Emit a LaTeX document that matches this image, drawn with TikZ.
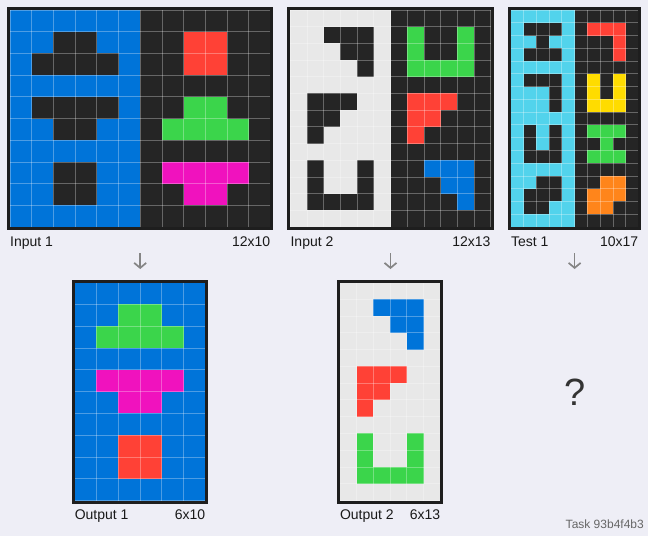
\documentclass[tikz,border=0pt]{standalone}
\usepackage{fontspec}
\setmainfont{Liberation Sans}
\usetikzlibrary{arrows.meta}

\definecolor{bgpage}{RGB}{238,238,246}
\definecolor{arcK}{RGB}{37,37,37}
\definecolor{arcB}{RGB}{0,116,217}
\definecolor{arcR}{RGB}{255,65,54}
\definecolor{arcG}{RGB}{59,213,75}
\definecolor{arcM}{RGB}{240,18,190}
\definecolor{arcY}{RGB}{255,220,0}
\definecolor{arcO}{RGB}{255,133,27}
\definecolor{arcC}{RGB}{82,211,236}
\definecolor{arcW}{RGB}{232,232,232}
\definecolor{framecol}{RGB}{30,30,30}

\tikzset{
	gridline/.style={white, opacity=0.3, line width=0.8pt},
	frame/.style={draw=framecol, line width=3pt},
	lbl/.style={font=\fontsize{14}{16}\selectfont, text=black!90, inner sep=0pt},
	downarr/.style={draw=black!48, line width=1.7pt, -{Straight Barb[length=5pt,width=12pt]}},
}

% x0, y0, cell, columns, rows, colour letters row by row
\newcommand{\arcgrid}[6]{
	\foreach \row [count=\j from 0] in {#6} {
		\foreach \cc [count=\i from 0] in \row {
			\fill[arc\cc] (#1+\i*#3, #2+\j*#3) rectangle ++(#3,#3);
		}
	}
	\foreach \i in {0,...,#4}
		\draw[gridline] (#1+\i*#3, #2) -- ++(0, #5*#3);
	\foreach \j in {0,...,#5}
		\draw[gridline] (#1, #2+\j*#3) -- ++(#4*#3, 0);
	\draw[frame] (#1-1.5, #2-1.5) rectangle (#1+#4*#3+1.5, #2+#5*#3+1.5);
}

\begin{document}
\begin{tikzpicture}[x=1pt, y=-1pt]
				\useasboundingbox (0,0) rectangle (648,536);
				\fill[bgpage] (0,0) rectangle (648,536);

				% input 1
				\arcgrid{10}{10}{21.7}{12}{10}{
					{B,B,B,B,B,B,K,K,K,K,K,K},
					{B,B,K,K,B,B,K,K,R,R,K,K},
					{B,K,K,K,K,B,K,K,R,R,K,K},
					{B,B,B,B,B,B,K,K,K,K,K,K},
					{B,K,K,K,K,B,K,K,G,G,K,K},
					{B,B,K,K,B,B,K,G,G,G,G,K},
					{B,B,B,B,B,B,K,K,K,K,K,K},
					{B,B,K,K,B,B,K,M,M,M,M,K},
					{B,B,K,K,B,B,K,K,M,M,K,K},
					{B,B,B,B,B,B,K,K,K,K,K,K}}
				\node[lbl, anchor=base west] (in1name) at (10,246) {Input 1};
				\node[lbl, anchor=base east] (in1size) at (270.4,246) {12x10};

				% input 2
				\arcgrid{290.4}{10}{16.692}{12}{13}{
					{W,W,W,W,W,W,K,K,K,K,K,K},
					{W,W,K,K,K,W,K,G,K,K,G,K},
					{W,W,W,K,K,W,K,G,K,K,G,K},
					{W,W,W,W,K,W,K,G,G,G,G,K},
					{W,W,W,W,W,W,K,K,K,K,K,K},
					{W,K,K,K,W,W,K,R,R,R,K,K},
					{W,K,K,W,W,W,K,R,R,K,K,K},
					{W,K,W,W,W,W,K,R,K,K,K,K},
					{W,W,W,W,W,W,K,K,K,K,K,K},
					{W,K,W,W,K,W,K,K,B,B,B,K},
					{W,K,W,W,K,W,K,K,K,B,B,K},
					{W,K,K,K,K,W,K,K,K,K,B,K},
					{W,W,W,W,W,W,K,K,K,K,K,K}}
				\node[lbl, anchor=base west] (in2name) at (290.4,246) {Input 2};
				\node[lbl, anchor=base east] (in2size) at (490.7,246) {12x13};

				% test 1
				\arcgrid{510.8}{10}{12.765}{10}{17}{
					{C,C,C,C,C,K,K,K,K,K},
					{C,K,K,K,C,K,R,R,R,K},
					{C,C,K,C,C,K,K,K,R,K},
					{C,K,K,K,C,K,K,K,R,K},
					{C,C,C,C,C,K,K,K,K,K},
					{C,K,K,K,C,K,Y,K,Y,K},
					{C,C,C,K,C,K,Y,K,Y,K},
					{C,C,C,K,C,K,Y,Y,Y,K},
					{C,C,C,C,C,K,K,K,K,K},
					{C,K,C,K,C,K,G,G,G,K},
					{C,K,C,K,C,K,K,G,K,K},
					{C,K,K,K,C,K,G,G,G,K},
					{C,C,C,C,C,K,K,K,K,K},
					{C,C,K,K,C,K,K,O,O,K},
					{C,K,K,K,C,K,O,O,O,K},
					{C,K,K,C,C,K,O,O,K,K},
					{C,C,C,C,C,K,K,K,K,K}}
				\node[lbl, anchor=base west] (t1name) at (510.8,246) {Test 1};
				\node[lbl, anchor=base east] (t1size) at (638.4,246) {10x17};

				% arrows down
				\coordinate (a1top) at (140.2,253);
				\coordinate (a1bot) at (140.2,269);
				\coordinate (a2top) at (390.5,253);
				\coordinate (a2bot) at (390.5,269);
				\coordinate (a3top) at (574.6,253);
				\coordinate (a3bot) at (574.6,269);
				\draw[downarr] (a1top) -- (a1bot);
				\draw[downarr] (a2top) -- (a2bot);
				\draw[downarr] (a3top) -- (a3bot);

				% output 1
				\arcgrid{74.6}{282.5}{21.8}{6}{10}{
					{B,B,B,B,B,B},
					{B,B,G,G,B,B},
					{B,G,G,G,G,B},
					{B,B,B,B,B,B},
					{B,M,M,M,M,B},
					{B,B,M,M,B,B},
					{B,B,B,B,B,B},
					{B,B,R,R,B,B},
					{B,B,R,R,B,B},
					{B,B,B,B,B,B}}
				\node[lbl, anchor=base west] (out1name) at (74.6,519) {Output 1};
				\node[lbl, anchor=base east] (out1size) at (205.4,519) {6x10};

				% output 2
				\arcgrid{339.8}{282.5}{16.77}{6}{13}{
					{W,W,W,W,W,W},
					{W,W,B,B,B,W},
					{W,W,W,B,B,W},
					{W,W,W,W,B,W},
					{W,W,W,W,W,W},
					{W,R,R,R,W,W},
					{W,R,R,W,W,W},
					{W,R,W,W,W,W},
					{W,W,W,W,W,W},
					{W,G,W,W,G,W},
					{W,G,W,W,G,W},
					{W,G,G,G,G,W},
					{W,W,W,W,W,W}}
				\node[lbl, anchor=base west] (out2name) at (339.8,519) {Output 2};
				\node[lbl, anchor=base east] (out2size) at (440.4,519) {6x13};

				% test output unknown
				\node[font=\fontsize{38}{42}\selectfont, text=black!80, inner sep=0pt] (qmark) at (574.6,392) {?};

				\node[anchor=base east, font=\fontsize{12}{14}\selectfont, text=black!60, inner sep=0pt] (taskid) at (644,528) {Task 93b4f4b3};
			\end{tikzpicture}
\end{document}
